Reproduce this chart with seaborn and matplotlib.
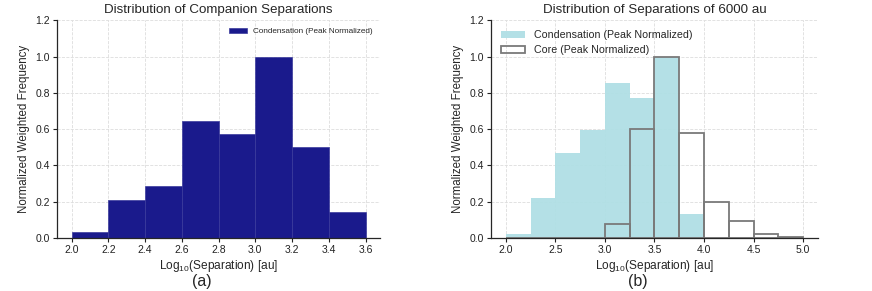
import numpy as np
import pandas as pd
import matplotlib
matplotlib.use("Agg")
import matplotlib.pyplot as plt
import seaborn as sns

# Panel (a): companion separations
a_edges = [2.0, 2.2, 2.4, 2.6, 2.8, 3.0, 3.2, 3.4, 3.6]
a_cond = [0.035, 0.212, 0.285, 0.643, 0.571, 1.0, 0.5, 0.142]

# Panel (b): separations of 6000 au
b_edges = [2.0, 2.25, 2.5, 2.75, 3.0, 3.25, 3.5, 3.75, 4.0, 4.25, 4.5, 4.75, 5.0]
b_cond = [0.025, 0.222, 0.47, 0.595, 0.852, 0.772, 1.0, 0.13, 0.0, 0.0, 0.0, 0.0]
b_core = [0.0, 0.0, 0.0, 0.0, 0.08, 0.6, 1.0, 0.578, 0.2, 0.095, 0.02, 0.008]

sns.set_style("ticks")
plt.rcParams['font.family'] = ['Liberation Sans', 'DejaVu Sans']
plt.rcParams['mathtext.fontset'] = 'custom'
plt.rcParams['mathtext.rm'] = 'Liberation Sans'

fig = plt.figure(figsize=(8.72, 2.91), dpi=100)
ax1 = fig.add_axes([0.0654, 0.182, 0.3706, 0.748])
ax2 = fig.add_axes([0.563, 0.182, 0.375, 0.748])

def centers(edges):
    e = np.asarray(edges)
    return (e[:-1] + e[1:]) / 2

dfa = pd.DataFrame({"x": centers(a_edges), "w": a_cond})
sns.histplot(data=dfa, x="x", weights="w", bins=a_edges, ax=ax1,
             color="#1a1a8c", alpha=1.0, edgecolor="#3a3a9c", linewidth=0.5,
             label="Condensation (Peak Normalized)")

dfb = pd.DataFrame({"x": centers(b_edges), "cond": b_cond, "core": b_core})
sns.histplot(data=dfb, x="x", weights="cond", bins=b_edges, ax=ax2,
             color="#b0dfe5", alpha=0.95, linewidth=0,
             label="Condensation (Peak Normalized)")
sns.histplot(data=dfb, x="x", weights="core", bins=b_edges, ax=ax2,
             fill=False, color="#7a7a7a", linewidth=1.3,
             label="Core (Peak Normalized)")

for ax in (ax1, ax2):
    ax.set_ylim(0, 1.2)
    ax.set_yticks([0.0, 0.2, 0.4, 0.6, 0.8, 1.0, 1.2])
    ax.grid(True, linestyle="--", color="#dddddd", linewidth=0.6)
    ax.set_axisbelow(True)
    sns.despine(ax=ax)
    ax.tick_params(labelsize=7.5, length=3, width=0.8, colors="#222222", pad=2)
    ax.set_xlabel(r"Log$_{10}$(Separation) [au]", fontsize=8.6, labelpad=2)
    ax.set_ylabel("Normalized Weighted Frequency", fontsize=8.3, labelpad=4)
    for s in ax.spines.values():
        s.set_linewidth(0.9)

ax1.set_xticks([2.0, 2.2, 2.4, 2.6, 2.8, 3.0, 3.2, 3.4, 3.6])
ax1.set_xlim(1.92, 3.68)
ax2.set_xticks([2.0, 2.5, 3.0, 3.5, 4.0, 4.5, 5.0])
ax2.set_xlim(1.85, 5.15)

ax1.set_title("Distribution of Companion Separations", fontsize=9.6, pad=5)
ax2.set_title("Distribution of Separations of 6000 au", fontsize=9.6, pad=5)

ax1.legend(loc="upper right", frameon=False, fontsize=5.9, handlelength=2.2)
ax2.legend(loc="upper left", frameon=False, fontsize=7.7, handlelength=2.3)

fig.text(0.232, 0.031, "(a)", ha="center", va="center", fontsize=11.5)
fig.text(0.732, 0.031, "(b)", ha="center", va="center", fontsize=11.5)

fig.savefig("out.png", dpi=100)
